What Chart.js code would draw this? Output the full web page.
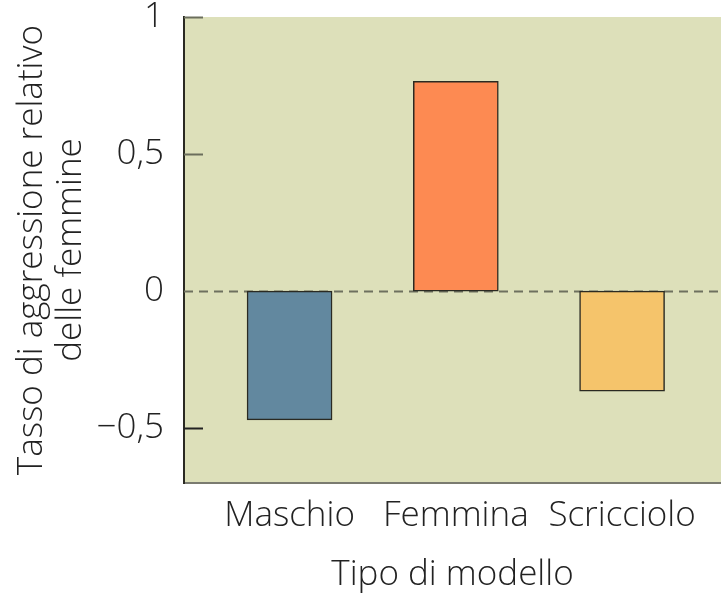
<!DOCTYPE html>
<html>
<head>
<meta charset="utf-8">
<script src="https://cdn.jsdelivr.net/npm/chart.js@4/dist/chart.umd.min.js"></script>
<style>
html,body{margin:0;padding:0;background:#fff;}
#wrap{width:721px;height:597px;position:relative;}
</style>
</head>
<body>
<div id="wrap"><canvas id="c" width="721" height="597"></canvas></div>
<script>
const categories = ["Maschio", "Femmina", "Scricciolo"];
const values = [-0.47, 0.765, -0.365];
const barColors = ["#62889f", "#fd8a52", "#f5c46b"];
const yTickValues = [-0.5, 0, 0.5, 1];
const yTickLabels = ["\u22120,5", "0", "0,5", "1"];
const yTitle = ["Tasso di aggressione relativo", "delle femmine"];
const xTitle = "Tipo di modello";

const FONT = "'Open Sans', Roboto, 'Liberation Sans', sans-serif";
const FS = 35;

const decor = {
  id: 'decor',
  beforeDraw(chart) {
    const {ctx, chartArea: a} = chart;
    ctx.save();
    ctx.fillStyle = '#dde0ba';
    ctx.fillRect(a.left, a.top, a.right - a.left, a.bottom - a.top);
    ctx.restore();
  },
  beforeDatasetsDraw(chart) {
    const {ctx, chartArea: a, scales: {y}} = chart;
    ctx.save();
    yTickValues.forEach(v => {
      if (v === 0) return;
      const py = Math.round(y.getPixelForValue(v)) + 0.5;
      ctx.strokeStyle = v < 0 ? '#222' : '#6b6e5c';
      ctx.lineWidth = 2;
      ctx.beginPath();
      ctx.moveTo(a.left, py);
      ctx.lineTo(a.left + 19, py);
      ctx.stroke();
    });
    const p0 = Math.round(y.getPixelForValue(0)) + 0.5;
    ctx.strokeStyle = '#6e705f';
    ctx.lineWidth = 2;
    ctx.setLineDash([9, 6]);
    ctx.beginPath();
    ctx.moveTo(a.left, p0);
    ctx.lineTo(a.right, p0);
    ctx.stroke();
    ctx.restore();
  }
};

new Chart(document.getElementById('c'), {
  type: 'bar',
  data: {
    datasets: [{
      data: values.map((v, i) => ({x: i, y: v})),
      backgroundColor: barColors,
      borderColor: '#2a2a22',
      borderWidth: 1.5,
      borderSkipped: false,
      barThickness: 85
    }]
  },
  options: {
    responsive: false,
    animation: false,
    devicePixelRatio: 1,
    layout: {padding: {left: 0, right: 0, top: 17, bottom: 0}},
    plugins: {legend: {display: false}, tooltip: {enabled: false}},
    scales: {
      x: {
        type: 'linear',
        offset: false,
        min: -0.635,
        max: 2.595,
        afterBuildTicks(s) { s.ticks = categories.map((c, i) => ({value: i})); },
        afterFit(s) { s.height = 114; s.paddingLeft = 0; s.paddingRight = 0; },
        grid: {display: false, drawTicks: false, offset: false},
        border: {display: true, color: '#7a7b70', width: 2},
        ticks: {
          autoSkip: false,
          maxRotation: 0,
          padding: 12,
          color: '#222',
          font: {family: FONT, size: FS, weight: '300'},
          callback: (v) => categories[v] !== undefined ? categories[v] : ''
        },
        title: {
          display: true,
          text: xTitle,
          color: '#222',
          font: {family: FONT, size: FS, weight: '300'},
          padding: {top: 4, bottom: 1}
        }
      },
      y: {
        type: 'linear',
        min: -0.7,
        max: 1,
        afterBuildTicks(s) { s.ticks = yTickValues.map(v => ({value: v})); },
        afterFit(s) { s.width = 184; s.paddingTop = 0; s.paddingBottom = 0; },
        grid: {display: false, drawTicks: false},
        border: {display: true, color: '#2a2a22', width: 2},
        ticks: {
          padding: 20,
          color: '#222',
          font: {family: FONT, size: FS, weight: '300'},
          callback: (v) => {
            const i = yTickValues.indexOf(v);
            return i >= 0 ? yTickLabels[i] : '';
          }
        },
        title: {
          display: true,
          text: yTitle,
          color: '#222',
          font: {family: FONT, size: FS, weight: '300', lineHeight: 1.13},
          padding: {top: 12, bottom: 0}
        }
      }
    }
  },
  plugins: [decor]
});
</script>
</body>
</html>
